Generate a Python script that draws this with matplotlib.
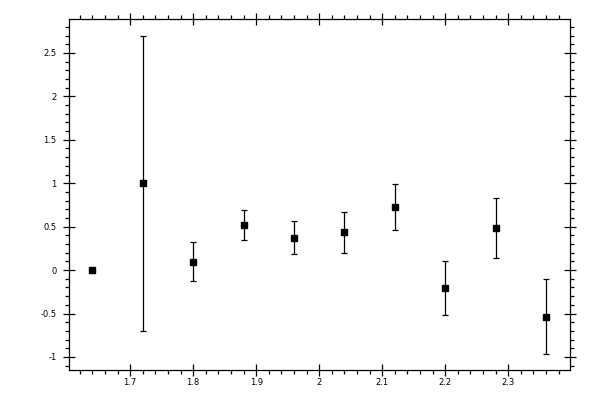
import numpy as np
import matplotlib
matplotlib.use("Agg")
from matplotlib import pyplot as plt
from matplotlib.ticker import MultipleLocator, FormatStrFormatter

# data
x    = [1.64, 1.72, 1.80, 1.88, 1.96, 2.04, 2.12, 2.20, 2.28, 2.36]
y    = [0.0, 1.0, 0.095, 0.52, 0.375, 0.435, 0.725, -0.21, 0.485, -0.535]
yerr = [0.0, 1.70, 0.225, 0.173, 0.19, 0.235, 0.265, 0.31, 0.345, 0.43]

fig = plt.figure(figsize=(6, 4), dpi=100)
ax = fig.add_axes([0.115, 0.075, 0.835, 0.8775])

ax.errorbar(x, y, yerr=yerr, fmt='s', color='black', ms=5,
            ecolor='black', elinewidth=0.9, capsize=2.2, capthick=0.9)

ax.set_xlim(1.603, 2.398)
ax.set_ylim(-1.15, 2.89)

ax.xaxis.set_major_locator(MultipleLocator(0.1))
ax.xaxis.set_minor_locator(MultipleLocator(0.02))
ax.yaxis.set_major_locator(MultipleLocator(0.5))
ax.yaxis.set_minor_locator(MultipleLocator(0.1))

def fmt(v, pos):
    s = '%g' % round(v, 3)
    return s.replace('-', '\u2212') if False else s

ax.xaxis.set_major_formatter(plt.FuncFormatter(fmt))
ax.yaxis.set_major_formatter(plt.FuncFormatter(fmt))

ax.tick_params(which='major', direction='inout', length=8, width=0.9,
               top=True, right=True, labelsize=6, pad=2)
ax.tick_params(which='minor', direction='out', length=3, width=0.9,
               top=True, right=True)
ax.tick_params(axis='y', which='major', pad=5)

for sp in ax.spines.values():
    sp.set_linewidth(0.9)

fig.savefig('out.png', dpi=100)
